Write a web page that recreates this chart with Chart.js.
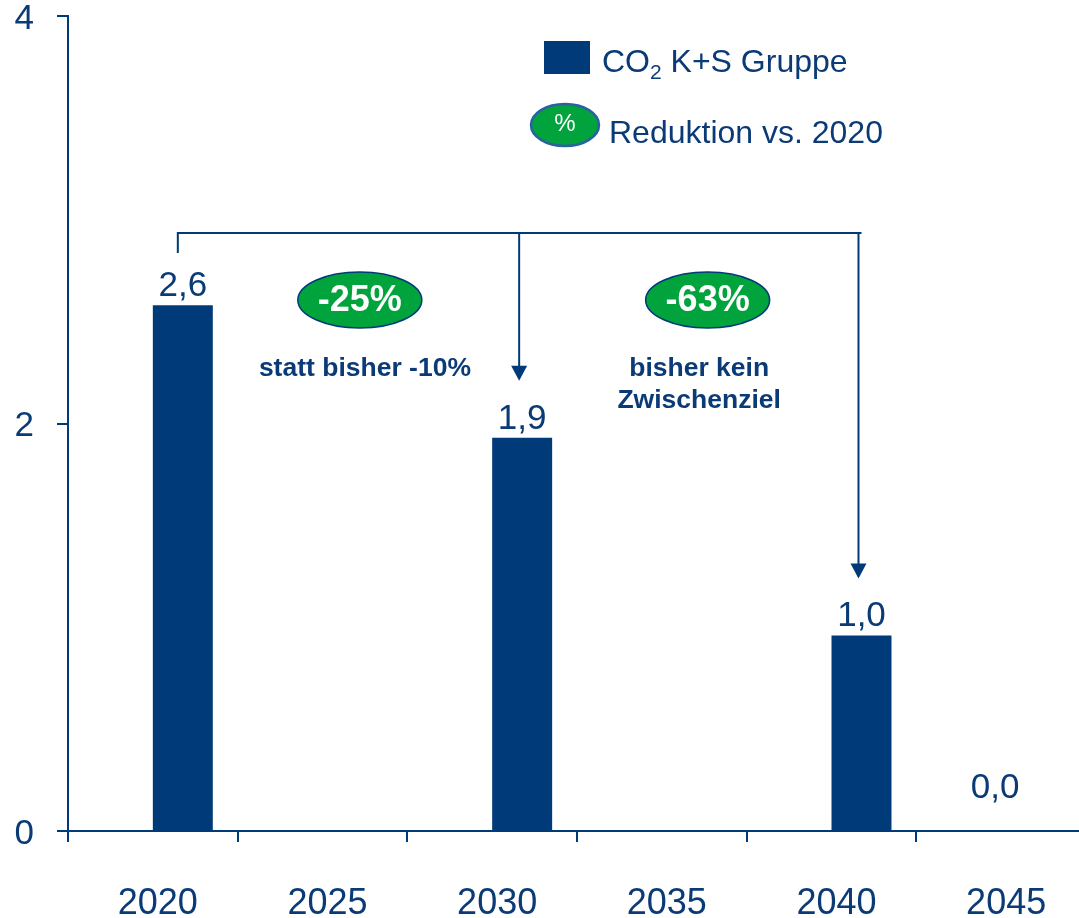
<!DOCTYPE html>
<html>
<head>
<meta charset="utf-8">
<title>CO2 K+S Gruppe</title>
<script src="https://cdn.jsdelivr.net/npm/chart.js@4.4.1/dist/chart.umd.min.js"></script>
<style>
  html, body { margin: 0; padding: 0; background: #fff; overflow: hidden; }
  #wrap { width: 1079px; height: 918px; overflow: hidden; }
</style>
</head>
<body>
<div id="wrap"><canvas id="co2Chart" width="1086" height="918"></canvas></div>
<script>
// data
const years = ['2020', '2025', '2030', '2035', '2040', '2045'];
const co2Values = [2.58, null, 1.93, null, 0.96, 0];
const yTicks = [0, 2, 4];
const reductions = ['-25%', '-63%'];
const reductionNotes = [['statt bisher -10%'], ['bisher kein', 'Zwischenziel']];
const arrowTargets = [2, 4]; // 2030, 2040
const legendBar = 'CO2 K+S Gruppe';
const legendPct = 'Reduktion vs. 2020';

const NAVY = '#003a78';
const TEXT = '#0b3b77';
const GREEN = '#00a33c';
const FONT = '"Liberation Sans", Arial, sans-serif';

Chart.defaults.font.family = FONT;

function ellipse(ctx, cx, cy, rx, ry, border, lw) {
    ctx.beginPath();
    ctx.ellipse(cx, cy, rx, ry, 0, 0, Math.PI * 2);
    ctx.fillStyle = GREEN;
    ctx.fill();
    ctx.lineWidth = lw;
    ctx.strokeStyle = border;
    ctx.stroke();
}

// value labels, bracket with arrows, reduction bubbles, legend
const annotations = {
    id: 'annotations',
    afterDatasetsDraw(chart) {
        const ctx = chart.ctx;
        const xs = chart.scales.x, ys = chart.scales.y;
        const area = chart.chartArea;
        const bars = chart.getDatasetMeta(1).data;
        ctx.save();

        // value labels
        ctx.fillStyle = TEXT;
        ctx.font = '35px ' + FONT;
        ctx.textAlign = 'center';
        ctx.textBaseline = 'alphabetic';
        co2Values.forEach((v, i) => {
            if (v === null) return;
            const txt = v.toFixed(1).replace('.', ',');
            if (v > 0) ctx.fillText(txt, bars[i].x, bars[i].y - 9);
            else ctx.fillText(txt, xs.getPixelForValue(i) - 6, ys.getPixelForValue(0) - 33);
        });

        // bracket
        const by = area.top + 217;
        const x0 = bars[0].x - 5;
        const xEnd = bars[arrowTargets[arrowTargets.length - 1]].x;
        ctx.strokeStyle = NAVY;
        ctx.fillStyle = NAVY;
        ctx.lineWidth = 2;
        ctx.beginPath();
        ctx.moveTo(x0, by + 20);
        ctx.lineTo(x0, by);
        ctx.lineTo(xEnd, by);
        ctx.stroke();
        arrowTargets.forEach(i => {
            const ax = bars[i].x - 3;
            const tip = bars[i].y - 57;
            ctx.beginPath();
            ctx.moveTo(ax, by);
            ctx.lineTo(ax, tip - 14);
            ctx.stroke();
            ctx.beginPath();
            ctx.moveTo(ax - 8, tip - 15);
            ctx.lineTo(ax + 8, tip - 15);
            ctx.lineTo(ax, tip);
            ctx.closePath();
            ctx.fill();
        });

        // reduction bubbles and notes
        const bubbleX = [xs.getPixelForValue(1.22), xs.getPixelForValue(3.27)];
        const noteX = [xs.getPixelForValue(1.25), xs.getPixelForValue(3.22)];
        const bubbleY = area.top + 284;
        reductions.forEach((r, k) => {
            ellipse(ctx, bubbleX[k], bubbleY, 62, 28, NAVY, 1.5);
            ctx.fillStyle = '#fff';
            ctx.font = 'bold 36px ' + FONT;
            ctx.textAlign = 'center';
            ctx.textBaseline = 'middle';
            ctx.fillText(r, bubbleX[k], bubbleY + 1);
            ctx.fillStyle = TEXT;
            ctx.font = 'bold 26.5px ' + FONT;
            ctx.textBaseline = 'alphabetic';
            reductionNotes[k].forEach((line, j) => {
                ctx.fillText(line, noteX[k], area.top + 360 + j * 32);
            });
        });

        // legend
        const lx = 544, ly = 41;
        ctx.fillStyle = NAVY;
        ctx.fillRect(lx, ly, 46, 33);
        ctx.fillStyle = TEXT;
        ctx.textAlign = 'left';
        ctx.textBaseline = 'alphabetic';
        ctx.font = '32px ' + FONT;
        let tx = lx + 58;
        const base = ly + 31;
        ctx.fillText('CO', tx, base);
        tx += ctx.measureText('CO').width;
        ctx.font = '21px ' + FONT;
        ctx.fillText('2', tx, base + 7);
        tx += ctx.measureText('2').width;
        ctx.font = '32px ' + FONT;
        ctx.fillText(legendBar.slice(3), tx, base);

        ellipse(ctx, 565, 125, 34, 21, '#2a62a0', 2.5);
        ctx.fillStyle = '#fff';
        ctx.font = '24px ' + FONT;
        ctx.textAlign = 'center';
        ctx.textBaseline = 'middle';
        ctx.fillText('%', 565, 124);
        ctx.fillStyle = TEXT;
        ctx.font = '32px ' + FONT;
        ctx.textAlign = 'left';
        ctx.textBaseline = 'alphabetic';
        ctx.fillText(legendPct, 609, 143);

        ctx.restore();
    }
};

const ctx = document.getElementById('co2Chart').getContext('2d');
const co2Chart = new Chart(ctx, {
    type: 'bar',
    data: {
        labels: years,
        datasets: [{
            label: '',
            data: years.map(() => null),
            backgroundColor: 'rgba(0,0,0,0)'
        }, {
            label: legendBar,
            data: co2Values,
            backgroundColor: NAVY,
            borderWidth: 0
        }]
    },
    options: {
        responsive: false,
        animation: false,
        layout: { padding: { top: 16, left: 0, right: 0, bottom: 0 } },
        categoryPercentage: 0.707,
        barPercentage: 1,
        plugins: {
            legend: { display: false },
            tooltip: { enabled: false }
        },
        scales: {
            x: {
                grid: { offset: true, drawOnChartArea: false, tickLength: 11, color: NAVY, lineWidth: 2 },
                border: { color: NAVY, width: 2 },
                ticks: { color: TEXT, font: { size: 36 }, padding: 40, maxRotation: 0, labelOffset: 5 },
                afterFit(scale) {
                    scale.height = 87;
                    scale.paddingLeft = 0;
                    scale.paddingRight = 0;
                }
            },
            y: {
                min: 0,
                max: 4,
                grid: { drawOnChartArea: false, tickLength: 11, color: NAVY, lineWidth: 2 },
                border: { color: NAVY, width: 2 },
                ticks: { color: TEXT, font: { size: 35 }, padding: 23, labelOffset: 3 },
                afterBuildTicks(scale) {
                    scale.ticks = yTicks.map(v => ({ value: v }));
                },
                afterFit(scale) {
                    scale.width = 68;
                    scale.paddingTop = 0;
                    scale.paddingBottom = 0;
                }
            }
        }
    },
    plugins: [annotations]
});
</script>
</body>
</html>
